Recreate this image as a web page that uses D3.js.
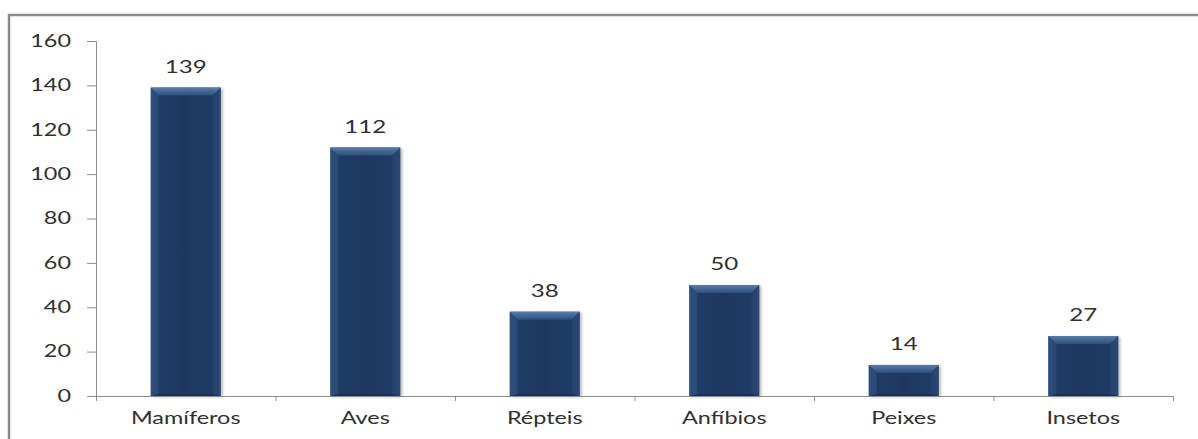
<!DOCTYPE html>
<html>
<head>
<meta charset="utf-8">
<script src="https://cdn.jsdelivr.net/npm/d3@7"></script>
<style>
  html, body { margin: 0; padding: 0; background: #fff; }
  svg { display: block; }
  text { font-family: Lato, "DejaVu Sans", sans-serif; font-weight: 400; fill: #303030; }
</style>
</head>
<body>
<svg id="chart" width="1198" height="439"></svg>
<script>
// Espécies por grupo
const categories = ["Mamíferos", "Aves", "Répteis", "Anfíbios", "Peixes", "Insetos"];
const values = [139, 112, 38, 50, 14, 27];
const yTicks = [0, 20, 40, 60, 80, 100, 120, 140, 160];

const W = 1198, H = 439;
const plot = { left: 96, right: 1173, top: 41, bottom: 396 };
const SX = 1.42;         // wide lettering
const FONT = 16.5;

const svg = d3.select("#chart");
const defs = svg.append("defs");

// bar body: darker in the middle, lighter near the edges
const gBody = defs.append("linearGradient").attr("id", "barBody")
  .attr("x1", "0").attr("x2", "1").attr("y1", "0").attr("y2", "0");
[[0, "#2f4f7d"], [0.12, "#1f3c66"], [0.5, "#1d3860"], [0.88, "#1f3c66"], [1, "#2c4a77"]]
  .forEach(([o, c]) => gBody.append("stop").attr("offset", o).attr("stop-color", c));

const gTop = defs.append("linearGradient").attr("id", "barTop")
  .attr("x1", "0").attr("x2", "0").attr("y1", "0").attr("y2", "1");
[[0, "#5a7ca8"], [1, "#2d4e7c"]]
  .forEach(([o, c]) => gTop.append("stop").attr("offset", o).attr("stop-color", c));

const blur = defs.append("filter").attr("id", "shadow")
  .attr("x", "-20%").attr("y", "-20%").attr("width", "140%").attr("height", "140%");
blur.append("feGaussianBlur").attr("stdDeviation", 1.5);

// outer frame of the chart area
svg.append("rect")
  .attr("x", 9).attr("y", 15).attr("width", W + 10).attr("height", H + 10)
  .attr("fill", "none").attr("stroke", "#8a8a8a").attr("stroke-width", 2.5);

const x = d3.scaleBand().domain(categories)
  .range([plot.left, plot.right]).paddingInner(0.61).paddingOuter(0.305);
const xEdges = d3.scaleLinear().domain([0, categories.length]).range([plot.left, plot.right]);
const y = d3.scaleLinear().domain([0, 160]).range([plot.bottom, plot.top]);

// y axis
const yAxis = svg.append("g").attr("transform", `translate(${plot.left},0)`)
  .call(d3.axisLeft(y).tickValues(yTicks).tickSize(9).tickPadding(16));
yAxis.select(".domain").attr("stroke", "#8c8c8c");
yAxis.selectAll(".tick line").attr("stroke", "#8c8c8c");
yAxis.selectAll(".tick text")
  .attr("font-size", FONT).attr("font-family", null)
  .each(function () {
    const t = d3.select(this);
    const dx = +t.attr("x");
    t.attr("x", null).attr("transform", `translate(${dx},0) scale(${SX},1)`);
  });

// bars
const bars = svg.append("g").selectAll("g.bar")
  .data(categories.map((c, i) => ({ c, v: values[i] })))
  .join("g").attr("class", "bar");

bars.append("rect")
  .attr("x", d => x(d.c) + 2).attr("y", d => y(d.v) + 1)
  .attr("width", x.bandwidth()).attr("height", d => y(0) - y(d.v))
  .attr("fill", "#000").attr("opacity", 0.28).attr("filter", "url(#shadow)");

bars.append("rect")
  .attr("x", d => x(d.c)).attr("y", d => y(d.v))
  .attr("width", x.bandwidth()).attr("height", d => y(0) - y(d.v))
  .attr("fill", "url(#barBody)");

// bevelled top edge
const bev = 8;
bars.append("path")
  .attr("d", d => {
    const x0 = x(d.c), x1 = x0 + x.bandwidth(), y0 = y(d.v);
    const b = Math.min(bev, (y(0) - y0) / 2);
    return `M${x0},${y0}L${x1},${y0}L${x1 - b},${y0 + b}L${x0 + b},${y0 + b}Z`;
  })
  .attr("fill", "url(#barTop)");

// bevelled side edges
bars.append("path")
  .attr("d", d => {
    const x0 = x(d.c), y0 = y(d.v), yb = y(0);
    const b = Math.min(bev, (yb - y0) / 2);
    return `M${x0},${y0}L${x0 + b},${y0 + b}L${x0 + b},${yb - 2}L${x0},${yb}Z`;
  })
  .attr("fill", "#2f507f").attr("opacity", 0.6);
bars.append("path")
  .attr("d", d => {
    const x1 = x(d.c) + x.bandwidth(), y0 = y(d.v), yb = y(0);
    const b = Math.min(bev, (yb - y0) / 2);
    return `M${x1},${y0}L${x1 - b},${y0 + b}L${x1 - b},${yb - 2}L${x1},${yb}Z`;
  })
  .attr("fill", "#2a4773").attr("opacity", 0.55);
// thin bottom edge
bars.append("path")
  .attr("d", d => {
    const x0 = x(d.c), x1 = x0 + x.bandwidth(), yb = y(0);
    const b = Math.min(bev, (yb - y(d.v)) / 2);
    return `M${x0},${yb}L${x0 + b},${yb - 2}L${x1 - b},${yb - 2}L${x1},${yb}Z`;
  })
  .attr("fill", "#15294a").attr("opacity", 0.6);

// value labels
bars.append("text")
  .attr("text-anchor", "middle").attr("font-size", FONT + 0.5)
  .attr("transform", d => `translate(${x(d.c) + x.bandwidth() / 2},${y(d.v) - 15}) scale(${SX},1)`)
  .text(d => d.v);

// x axis: boundary ticks plus category labels
const xAxis = svg.append("g").attr("transform", `translate(0,${plot.bottom})`)
  .call(d3.axisBottom(xEdges).tickValues(d3.range(categories.length + 1)).tickSize(5).tickFormat(""));
xAxis.select(".domain").attr("stroke", "#8c8c8c");
xAxis.selectAll(".tick line").attr("stroke", "#8c8c8c");

const xLabels = svg.append("g").attr("transform", `translate(0,${plot.bottom})`)
  .call(d3.axisBottom(x).tickSize(0).tickPadding(16));
xLabels.select(".domain").remove();
xLabels.selectAll(".tick text")
  .attr("font-size", FONT).attr("font-family", null)
  .each(function () {
    const t = d3.select(this);
    const dy = +t.attr("y");
    t.attr("y", null).attr("transform", `translate(0,${dy}) scale(${SX},1)`);
  });
</script>
</body>
</html>
